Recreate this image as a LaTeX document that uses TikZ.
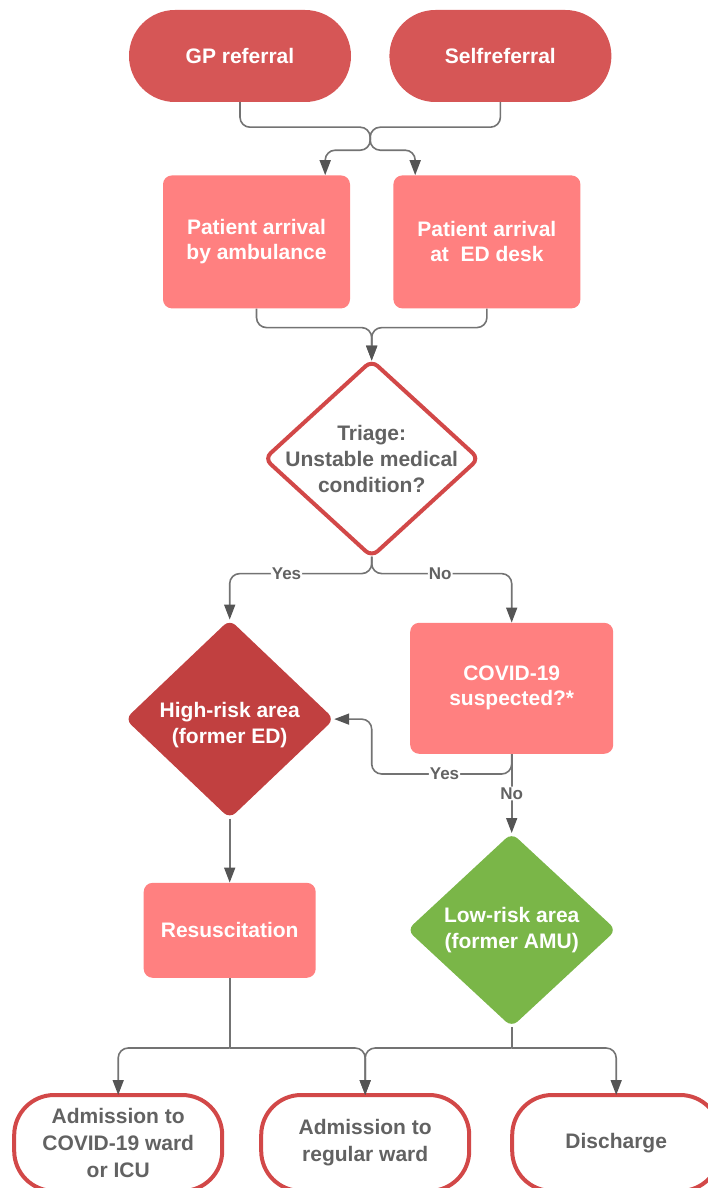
\documentclass[tikz,border=0pt]{standalone}
\usepackage{fontspec}
\setmainfont{Liberation Sans}
\usepackage{tikz}
\usetikzlibrary{shapes,arrows.meta,positioning,calc}
\definecolor{termred}{RGB}{214, 86, 86}
\definecolor{salmon}{RGB}{255, 128, 128}
\definecolor{darkred}{RGB}{193, 64, 64}
\definecolor{lowgreen}{RGB}{122, 182, 72}
\definecolor{edgered}{RGB}{210, 72, 72}
\definecolor{wire}{RGB}{115, 115, 115}
\definecolor{arrowgray}{RGB}{85, 85, 85}
\definecolor{inkgray}{RGB}{98, 98, 98}
\tikzstyle{terminal} = [rectangle, rounded corners=46pt, fill=termred, text=white, font=\bfseries\fontsize{21}{25}\selectfont, minimum width=222pt, minimum height=92pt]
\tikzstyle{process} = [rectangle, rounded corners=9pt, fill=salmon, text=white, align=center, inner sep=0pt, font=\bfseries\fontsize{21}{25}\selectfont]
\tikzstyle{decision} = [diamond, rounded corners=8pt, inner sep=0pt, outer sep=0pt]
\tikzstyle{dtext} = [align=center, text=white, font=\bfseries\fontsize{21}{26}\selectfont]
\tikzstyle{outcome} = [rectangle, rounded corners=40pt, draw=edgered, line width=4pt, outer sep=0pt, fill=white, text=inkgray, align=center, font=\bfseries\fontsize{21}{27}\selectfont, minimum width=208pt, minimum height=96pt]
\tikzstyle{edgetext} = [fill=white, text=inkgray, inner sep=1pt, font=\bfseries\fontsize{17}{20}\selectfont]
\tikzstyle{tedge} = [draw, wire, line width=1.6pt, rounded corners=10pt, -{Triangle[length=15pt, width=11pt, color=arrowgray]}]
\tikzstyle{tline} = [draw, wire, line width=1.6pt, rounded corners=10pt]

\begin{document}
\begin{tikzpicture}[x=1pt, y=-1pt]
\useasboundingbox (0,0) rectangle (708,1188);

% referrals and arrival =============================
\node[terminal] (gp) at (240,56) {GP referral};
\node[terminal, right=38pt of gp] (self) {Selfreferral};
\node[process, minimum width=187pt, minimum height=133pt, below=73pt of gp, xshift=16.5pt] (amb) {Patient arrival\\by ambulance};
\node[process, minimum width=187pt, minimum height=133pt, right=43pt of amb] (desk) {Patient arrival\\at \ ED desk};
\coordinate (jref) at ($(gp.south)!0.5!(self.south)+(0,25)$);
\coordinate (jarr) at ($(jref)+(0,23)$);
\coordinate (jmid) at ($(amb.south)!0.5!(desk.south)+(0,19)$);

% triage and areas
\node[decision, draw=edgered, line width=4pt, fill=white, minimum width=214pt, minimum height=196pt, below=33pt of jmid,
  label={[dtext, text=inkgray]center:{Triage:\\Unstable medical\\condition?}}] (triage) {};
\node[decision, fill=darkred, minimum width=209pt, minimum height=199pt, below=63pt of triage, xshift=-142pt,
  label={[dtext, yshift=-6pt]center:{High-risk area\\(former ED)}}] (high) {};
\node[process, minimum width=203pt, minimum height=131pt, below=66pt of triage, xshift=140pt] (covid) {COVID-19\\suspected?*};
\node[decision, fill=lowgreen, minimum width=209pt, minimum height=194pt, below=79pt of covid,
  label={[dtext]center:{Low-risk area\\(former AMU)}}] (low) {};
\node[process, minimum width=172pt, minimum height=95pt, below=64pt of high] (resus) {Resuscitation};
\coordinate (tsplit) at ($(triage.south)+(0,17)$);
\coordinate (cyes) at ($(covid.south)+(-140,20)$);

% outcomes
\node[outcome, below=117pt of resus, xshift=-111.5pt] (icu) {Admission to\\COVID-19 ward\\or ICU};
\node[outcome, right=39pt of icu] (ward) {Admission to\\regular ward};
\node[outcome, right=43pt of ward] (discharge) {Discharge};
\coordinate (rsplit) at ($(resus.south)+(0,70)$);
\coordinate (lsplit) at ($(low.south)+(0,21)$);

% edges
\path[tedge] (gp.south) |- (jref) -- (jarr) -| ($(amb.north east)+(-25,0)$);
\path[tedge] (self.south) |- (jref) -- (jarr) -| ($(desk.north west)+(22,0)$);
\path[tedge] (amb.south) |- (jmid) -- (triage.north);
\path[tedge] (desk.south) |- (jmid) -- (triage.north);
\path[tedge] (triage.south) -- (tsplit) -| node[edgetext, pos=0.3] {Yes} (high.north);
\path[tedge] (triage.south) -- (tsplit) -| node[edgetext, pos=0.245] {No} (covid.north);
\path[tedge] (covid.south) |- node[edgetext, pos=0.74] {Yes} (cyes) |- (high.east);
\path[tedge] (covid.south) -- node[edgetext] {No} (low.north);
\path[tedge] (high.south) -- (resus.north);
\path[tline] (resus.south) -- (rsplit);
\path[tline] (low.south) -- (lsplit);
\path[tedge] (rsplit) -| (icu.north);
\path[tedge] (rsplit) -| (ward.north);
\path[tedge] (lsplit) -| (ward.north);
\path[tedge] (lsplit) -| (discharge.north);

\end{tikzpicture}
\end{document}
